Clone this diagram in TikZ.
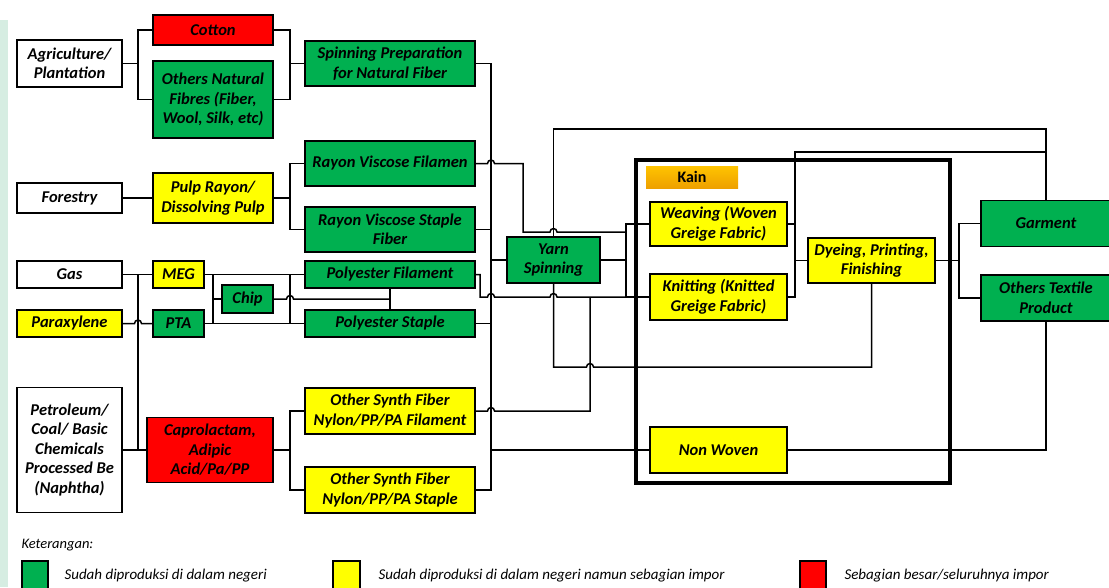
\documentclass[tikz,border=0pt]{standalone}
\usepackage{fontspec}
\setmainfont{Carlito}
\usetikzlibrary{calc}
\definecolor{prodgreen}{RGB}{0,176,80}
\definecolor{prodyellow}{RGB}{255,255,0}
\definecolor{prodred}{RGB}{255,0,0}
\definecolor{kaintop}{RGB}{255,196,0}
\definecolor{kainbottom}{RGB}{238,160,0}
\definecolor{edgemint}{RGB}{214,237,226}

% small bridge where a line crosses another one
\newcommand{\hop}[1]{-- ($(#1)+(-3.5pt,0)$) arc[start angle=180, end angle=0, radius=3.5pt]}

\begin{document}
\begin{tikzpicture}[x=1pt, y=-1pt,
    box/.style={draw=black, line width=1.8pt, align=center, inner sep=0pt,
      font=\fontsize{16.5}{19.5}\selectfont\bfseries\itshape},
    gbox/.style={box, fill=prodgreen},
    ybox/.style={box, fill=prodyellow},
    rbox/.style={box, fill=prodred},
    wbox/.style={box, fill=white},
    link/.style={line width=1.5pt},
    legendtext/.style={anchor=west, font=\fontsize{15}{17}\selectfont\itshape}]
  \useasboundingbox (0,0) rectangle (1109,587);
  \fill[edgemint] (0,20) rectangle (8,587);

  % raw materials
  \node[wbox, minimum width=105pt, minimum height=47pt] (agri) at (69.5,63.5) {Agriculture/\\Plantation};
  \node[wbox, minimum width=105pt, minimum height=30pt] (fors) at (69.5,198) {Forestry};
  \node[wbox, minimum width=105pt, minimum height=27pt] (gas) at (69.5,274.5) {Gas};
  \node[ybox, minimum width=105pt, minimum height=27pt] (para) at (69.5,323.5) {Paraxylene};
  \node[wbox, minimum width=105pt, minimum height=125pt] (petr) at (69.5,450) {Petroleum/\\Coal/ Basic\\Chemicals\\Processed Be\\(Naphtha)};

  % fibre inputs
  \node[rbox, minimum width=120pt, minimum height=30pt] (cot) at (213,30) {Cotton};
  \node[gbox, minimum width=120pt, minimum height=77pt] (onf) at (213,99.5) {Others Natural\\Fibres (Fiber,\\Wool, Silk, etc)};
  \node[ybox, minimum width=120pt, minimum height=50pt] (pulp) at (213,198) {Pulp Rayon/\\Dissolving Pulp};
  \node[ybox, minimum width=51pt, minimum height=27pt] (meg) at (178.5,274.5) {MEG};
  \node[gbox, minimum width=51pt, minimum height=27pt] (pta) at (178.5,323.5) {PTA};
  \node[gbox, minimum width=51pt, minimum height=28pt] (chip) at (247.5,299) {Chip};
  \node[rbox, minimum width=126pt, minimum height=65pt] (capr) at (210,450) {Caprolactam,\\Adipic\\Acid/Pa/PP};

  % fibres
  \node[gbox, minimum width=170pt, minimum height=45pt] (spn) at (390,63.5) {Spinning Preparation\\for Natural Fiber};
  \node[gbox, minimum width=170pt, minimum height=45pt] (rvf) at (390,163.5) {Rayon Viscose Filamen};
  \node[gbox, minimum width=170pt, minimum height=45pt] (rvs) at (390,229.5) {Rayon Viscose Staple\\Fiber};
  \node[gbox, minimum width=170pt, minimum height=27pt] (pfil) at (390,274.5) {Polyester Filament};
  \node[gbox, minimum width=170pt, minimum height=27pt] (psta) at (390,323.5) {Polyester Staple};
  \node[ybox, minimum width=170pt, minimum height=46pt] (osf) at (390,411) {Other Synth Fiber\\Nylon/PP/PA Filament};
  \node[ybox, minimum width=170pt, minimum height=46pt] (oss) at (390,490) {Other Synth Fiber\\Nylon/PP/PA Staple};

  \node[gbox, minimum width=93pt, minimum height=46pt] (yarn) at (553.5,260) {Yarn\\Spinning};

  % fabric group
  \draw[line width=3.5pt] (636,160) rectangle (950,483);
  \node[top color=kaintop, bottom color=kainbottom, minimum width=92pt, minimum height=22pt, inner sep=0pt,
    font=\fontsize{16}{18}\selectfont\bfseries] (kain) at (692,177) {Kain};
  \node[ybox, minimum width=137pt, minimum height=44pt] (weav) at (718.5,224) {Weaving (Woven\\Greige Fabric)};
  \node[ybox, minimum width=137pt, minimum height=46pt] (knit) at (718.5,297) {Knitting (Knitted\\Greige Fabric)};
  \node[ybox, minimum width=137pt, minimum height=46pt] (nonw) at (718.5,450) {Non Woven};
  \node[ybox, minimum width=127pt, minimum height=45pt] (dye) at (871.5,260.5) {Dyeing, Printing,\\Finishing};

  \node[gbox, minimum width=130pt, minimum height=46pt] (garm) at (1046,223.5) {Garment};
  \node[gbox, minimum width=130pt, minimum height=46pt] (otp) at (1046,298) {Others Textile\\Product};

  % bus lines
  \coordinate (xa) at (138,0);
  \coordinate (xb) at (290,0);
  \coordinate (xc) at (491,0);
  \coordinate (xj) at (213,0);
  \coordinate (xf) at (626,0);
  \coordinate (xg) at (590,0);
  \coordinate (xh) at (795,0);
  \coordinate (xi) at (959,0);
  \coordinate (ra) at (523,232);
  \coordinate (pb) at (480,297);
  \coordinate (yd) at (0,367);
  \coordinate (yt) at (0,129);
  \coordinate (yw) at (0,152);

  \begin{scope}[link]
    \draw (agri.east) -- (xa |- agri.east);
    \draw (cot.west) -| (xa |- onf.west) -- (onf.west);
    \draw (cot.east) -| (xb |- onf.east) -- (onf.east);
    \draw (xb |- spn.west) -- (spn.west);
    \draw (fors.east) -- (pulp.west);
    \draw (pulp.east) -- (xb |- pulp.east);
    \draw (rvf.west) -| (xb |- rvs.west) -- (rvs.west);
    \draw (gas.east) -- (meg.west);
    \draw (para.east) \hop{xa |- para.east} -- (pta.west);
    \draw (petr.east) -- (capr.west);
    \draw (xa |- gas.east) -- (xa |- petr.east);
    \draw (meg.east) -- (pfil.west);
    \draw (pta.east) -- (psta.west);
    \draw (xj |- meg.east) -- (xj |- pta.east);
    \draw (xj |- chip.west) -- (chip.west);
    \draw (xb |- pfil.west) -- (xb |- psta.west);
    \draw (chip.east) \hop{xb |- chip.east} -- (pfil.south |- chip.east);
    \draw (pfil.south) -- (psta.north);
    \draw (capr.east) -- (xb |- capr.east);
    \draw (osf.west) -| (xb |- oss.west) -- (oss.west);

    \draw (spn.east) -| (xc |- oss.east) -- (oss.east);
    \draw (rvs.east) -- (xc |- rvs.east);
    \draw (psta.east) -- (xc |- psta.east);
    \draw (xc |- yarn.west) -- (yarn.west);
    \draw (xc |- nonw.west) -- (nonw.west);
    \draw (rvf.east) \hop{xc |- rvf.east} -| (ra) \hop{yarn |- ra} -- (xf |- ra);
    \draw (pfil.east) -| (pb) \hop{xc |- pb} \hop{yarn |- pb} -- (xf |- pb);
    \draw (osf.east) \hop{xc |- osf.east} -| (xg |- pb);
    \draw (yarn.south) -- (yarn.south |- yd) \hop{xg |- yd} -| (dye.south);
    \draw (yarn.north) |- (garm.north |- yt) -- (garm.north);

    \draw (yarn.east) -- (xf |- yarn.east);
    \draw (weav.west) -| (xf |- knit.west) -- (knit.west);
    \draw (weav.east) -| (xh |- knit.east) -- (knit.east);
    \draw (xh |- dye.west) -- (dye.west);
    \draw (xh |- weav.east) |- (garm.north |- yw);
    \draw (dye.east) -- (xi |- dye.east);
    \draw (garm.west) -| (xi |- otp.west) -- (otp.west);
    \draw (nonw.east) -| (otp.south);
  \end{scope}

  % legend
  \node[legendtext, font=\fontsize{14.5}{16}\selectfont\itshape] (ket) at (18,545) {Keterangan:};
  \node[gbox, minimum width=26pt, minimum height=34pt] (lgreen) at (35,578) {};
  \node[ybox, minimum width=27pt, minimum height=34pt] (lyellow) at (346.5,578) {};
  \node[rbox, minimum width=26pt, minimum height=34pt] (lred) at (813,578) {};
  \node[legendtext] at (61,576) {Sudah diproduksi di dalam negeri};
  \node[legendtext] at (375,576) {Sudah diproduksi di dalam negeri namun sebagian impor};
  \node[legendtext] at (841,576) {Sebagian besar/seluruhnya impor};
\end{tikzpicture}
\end{document}
